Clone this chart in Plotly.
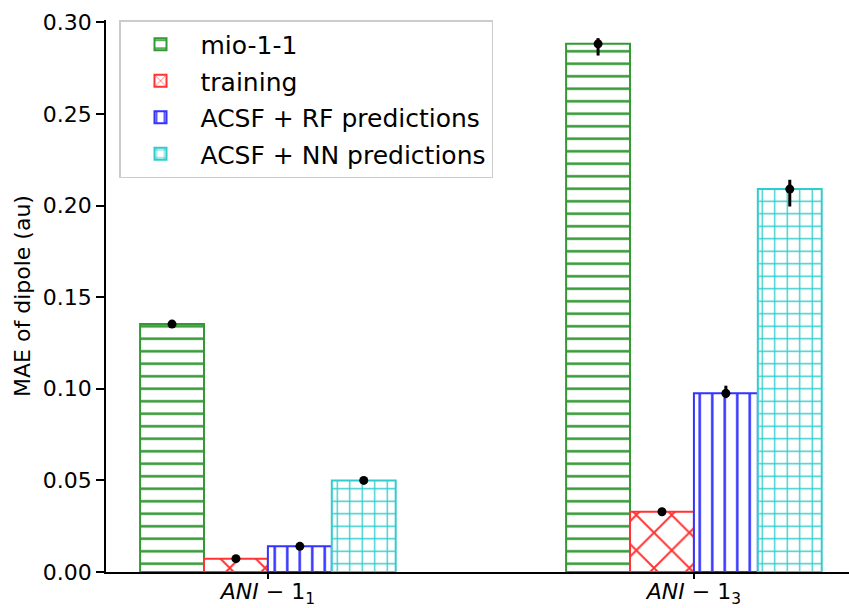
import plotly.graph_objects as go

categories = ["<i>ANI</i> − 1<sub>1</sub>", "<i>ANI</i> − 1<sub>3</sub>"]
series_names = ["mio-1-1", "training", "ACSF + RF predictions", "ACSF + NN predictions"]
mio = [0.1353, 0.2883]
training = [0.0073, 0.0329]
rf = [0.0140, 0.0975]
nn = [0.0500, 0.2090]
err_plus = {
    "mio-1-1": [0.0006, 0.0031],
    "training": [0.0005, 0.0008],
    "ACSF + RF predictions": [0.0006, 0.0042],
    "ACSF + NN predictions": [0.0006, 0.0051],
}
err_minus = {
    "mio-1-1": [0.0006, 0.0064],
    "training": [0.0005, 0.0008],
    "ACSF + RF predictions": [0.0006, 0.0026],
    "ACSF + NN predictions": [0.0006, 0.0095],
}
yticks = [0.00, 0.05, 0.10, 0.15, 0.20, 0.25, 0.30]

values = [mio, training, rf, nn]
colors = ["#339933", "#ff3333", "#3333ff", "#33cccc"]
shapes = ["-", "x", "|", "+"]
psizes = [12.5, 25, 12.5, 12.5]
solid = [0.2, 0.15, 0.2, 0.2]

bw = 0.15
offsets = [-1.5 * bw, -0.5 * bw, 0.5 * bw, 1.5 * bw]
gx = list(range(len(categories)))

fig = go.Figure()
for k, name in enumerate(series_names):
    xs = [g + offsets[k] for g in gx]
    fig.add_trace(go.Bar(
        x=xs, y=values[k], width=bw, name=name, legendgroup=name,
        marker=dict(color="white", line=dict(color=colors[k], width=2),
                    pattern=dict(shape=shapes[k], fgcolor=colors[k], bgcolor="white",
                                 fgopacity=1, size=psizes[k], solidity=solid[k])),
    ))
for k, name in enumerate(series_names):
    xs = [g + offsets[k] for g in gx]
    fig.add_trace(go.Scatter(
        x=xs, y=values[k], mode="markers", showlegend=False, legendgroup=name,
        marker=dict(color="black", size=9),
        error_y=dict(type="data", symmetric=False, array=err_plus[name],
                     arrayminus=err_minus[name], color="black", thickness=3, width=0),
    ))

fig.update_layout(
    width=849, height=608,
    margin=dict(l=106, r=0, t=20, b=36),
    plot_bgcolor="white", paper_bgcolor="white",
    barmode="overlay",
    font=dict(family="DejaVu Sans", color="black", size=21),
    showlegend=True,
    legend=dict(x=0.0175, y=1.0, xanchor="left", yanchor="top",
                bgcolor="rgba(255,255,255,0.8)", bordercolor="#cccccc", borderwidth=1.5,
                font=dict(size=25), tracegroupgap=1, itemwidth=70),
    xaxis=dict(range=[-0.380, 1.364], tickvals=gx, ticktext=categories,
               showline=True, linecolor="black", linewidth=1.6,
               ticks="outside", ticklen=5, tickwidth=1.6, tickcolor="black",
               showgrid=False, zeroline=False, tickfont=dict(size=22), automargin=False,
               ticklabelstandoff=-6),
    yaxis=dict(range=[0, 0.3013], tickvals=yticks, tickformat=".2f",
               showline=True, linecolor="black", linewidth=1.6,
               ticks="outside", ticklen=8, tickwidth=1.6, tickcolor="black",
               showgrid=False, zeroline=False, tickfont=dict(size=22),
               title=dict(text="MAE of dipole (au)", font=dict(size=22), standoff=6)),
)

fig.write_html("out.html")
